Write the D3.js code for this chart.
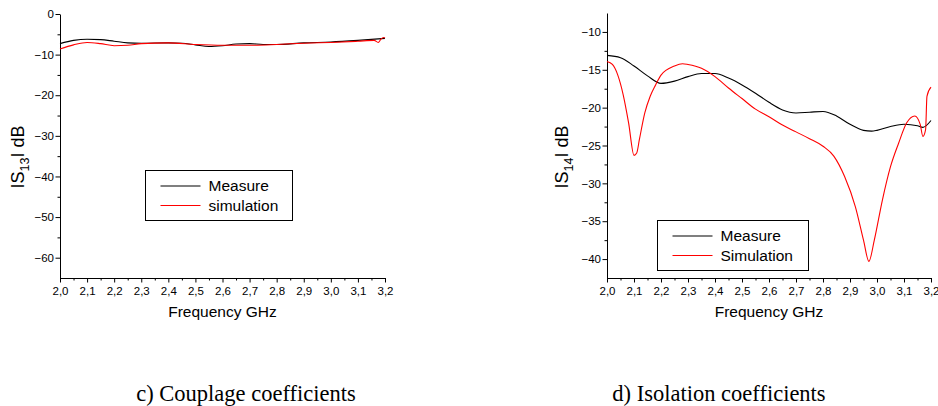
<!DOCTYPE html>
<html>
<head>
<meta charset="utf-8">
<script src="https://cdn.jsdelivr.net/npm/d3@7"></script>
<style>
	body { margin: 0; background: #fff; }
	svg { display: block; font-family: "Liberation Sans", Arial, sans-serif; }
	.caption { font-family: "Liberation Serif", "Times New Roman", serif; font-size: 22.5px; }
</style>
</head>
<body>
<div id="chart"></div>
<script>
// --- data ---
const xTicks		= [2.0, 2.1, 2.2, 2.3, 2.4, 2.5, 2.6, 2.7, 2.8, 2.9, 3.0, 3.1, 3.2];

const couplageTicks	= [0, -10, -20, -30, -40, -50, -60];
const couplageMeasure = [
	[2.00, -7.3], [2.05, -6.5], [2.10, -6.2], [2.15, -6.3], [2.20, -6.7], [2.25, -7.1],
	[2.30, -7.2], [2.40, -7.1], [2.45, -7.2], [2.50, -7.6], [2.55, -8.0], [2.60, -7.8],
	[2.65, -7.4], [2.70, -7.3], [2.75, -7.5], [2.80, -7.5], [2.90, -7.1], [3.00, -6.9],
	[3.10, -6.5], [3.20, -6.0]
];
const couplageSim = [
	[2.00, -8.6], [2.05, -7.6], [2.10, -7.0], [2.15, -7.3], [2.20, -7.8], [2.25, -7.7],
	[2.30, -7.3], [2.40, -7.1], [2.50, -7.5], [2.60, -7.7], [2.70, -7.7], [2.80, -7.5],
	[2.90, -7.2], [3.00, -7.0], [3.10, -6.7], [3.16, -6.5], [3.175, -7.0], [3.185, -6.2],
	[3.195, -5.8], [3.20, -5.9]
];

const isolationTicks = [-10, -15, -20, -25, -30, -35, -40];
const isolationMeasure = [
	[2.00, -13.1], [2.05, -13.4], [2.10, -14.5], [2.15, -15.8], [2.20, -16.8], [2.25, -16.5],
	[2.30, -15.9], [2.35, -15.5], [2.40, -15.5], [2.45, -16.1], [2.50, -17.0], [2.55, -18.1],
	[2.60, -19.3], [2.65, -20.3], [2.70, -20.7], [2.75, -20.6], [2.80, -20.5], [2.85, -21.1],
	[2.90, -22.2], [2.95, -23.0], [2.98, -23.1], [3.00, -23.0], [3.05, -22.5], [3.10, -22.2],
	[3.15, -22.4], [3.17, -22.6], [3.20, -21.7]
];
const isolationSim = [
	[2.00, -13.9], [2.02, -14.3], [2.04, -15.7], [2.06, -18.3], [2.08, -22.0], [2.10, -26.3],
	[2.11, -26.0], [2.12, -24.2], [2.14, -20.7], [2.16, -18.5], [2.18, -17.0], [2.20, -15.7],
	[2.25, -14.5], [2.28, -14.2], [2.30, -14.3], [2.35, -14.8], [2.40, -15.9], [2.45, -17.4],
	[2.50, -18.8], [2.55, -20.2], [2.60, -21.2], [2.65, -22.3], [2.70, -23.2], [2.75, -24.1],
	[2.80, -25.1], [2.84, -26.4], [2.88, -29.1], [2.92, -33.1], [2.95, -37.5], [2.97, -40.3],
	[2.99, -37.5], [3.02, -32.2], [3.05, -27.8], [3.08, -24.7], [3.11, -22.0], [3.14, -21.1],
	[3.16, -22.2], [3.17, -23.8], [3.18, -22.9], [3.185, -18.5], [3.20, -17.3]
];

const width		= 938;
const height	= 406;

let svg = d3.select('#chart').append('svg')
	.attr('width', width)
	.attr('height', height);

function drawPanel(opt) {
	let x = d3.scaleLinear().domain([2.0, 3.2]).range([opt.left, opt.right]);
	let y = d3.scaleLinear().domain(opt.yDomain).range([opt.bottom, opt.top]);
	let g = svg.append('g');
	let fmt = (d) => d3.format('.1f')(d).replace('.', ',');

	// minor ticks
	let xMinor = d3.range(2.05, 3.2, 0.1);
	g.append('g')
		.attr('transform', 'translate(0,' + opt.bottom + ')')
		.call(d3.axisBottom(x).tickValues(xMinor).tickSize(2.5).tickFormat(''))
		.call((a) => a.select('.domain').remove());
	g.append('g')
		.attr('transform', 'translate(' + opt.left + ',0)')
		.call(d3.axisLeft(y).tickValues(opt.yMinor).tickSize(2.5).tickFormat(''))
		.call((a) => a.select('.domain').remove());

	let xa = g.append('g')
		.attr('transform', 'translate(0,' + opt.bottom + ')')
		.call(d3.axisBottom(x).tickValues(xTicks).tickSize(4.5).tickSizeOuter(0).tickFormat(fmt));
	xa.selectAll('text').attr('font-size', 11.5).attr('fill', '#000').attr('font-family', 'Liberation Sans, Arial').attr('dy', '0.85em');

	let ya = g.append('g')
		.attr('transform', 'translate(' + opt.left + ',0)')
		.call(d3.axisLeft(y).tickValues(opt.yTicks).tickSize(4.5).tickSizeOuter(0).tickFormat(d3.format('d')));
	ya.selectAll('text').attr('font-size', 11.5).attr('fill', '#000').attr('font-family', 'Liberation Sans, Arial').attr('x', -6);

	g.selectAll('.domain').attr('stroke', '#000');
	g.selectAll('.tick line').attr('stroke', '#000');

	// series
	let line = d3.line().x((d) => x(d[0])).y((d) => y(d[1])).curve(d3.curveMonotoneX);
	g.append('path').datum(opt.measure)
		.attr('d', line).attr('fill', 'none').attr('stroke', '#000').attr('stroke-width', 1.1);
	g.append('path').datum(opt.sim)
		.attr('d', line).attr('fill', 'none').attr('stroke', '#ff0000').attr('stroke-width', 1.1);

	// axis titles
	g.append('text')
		.attr('x', (opt.left + opt.right) / 2).attr('y', opt.bottom + 39)
		.attr('text-anchor', 'middle').attr('font-size', 15.5)
		.text('Frequency GHz');

	let yl = g.append('text')
		.attr('transform', 'translate(' + opt.yLabelX + ',' + opt.yLabelY + ') rotate(-90)')
		.attr('text-anchor', 'middle').attr('font-size', 18);
	yl.append('tspan').text('IS');
	yl.append('tspan').attr('font-size', 12.5).attr('dy', 4.5).text(opt.sub);
	yl.append('tspan').attr('dy', -4.5).text('I dB');

	// legend
	let lg = g.append('g').attr('transform', 'translate(' + opt.legend[0] + ',' + opt.legend[1] + ')');
	lg.append('rect').attr('width', opt.legend[2]).attr('height', 50)
		.attr('fill', '#fff').attr('stroke', '#000').attr('stroke-width', 1);
	[['Measure', '#000'], [opt.simName, '#ff0000']].forEach((o, i) => {
		lg.append('line').attr('x1', 15).attr('x2', 55).attr('y1', 15.5 + i * 19.5).attr('y2', 15.5 + i * 19.5)
			.attr('stroke', o[1]).attr('stroke-width', 1.1);
		lg.append('text').attr('x', 63).attr('y', 15.5 + i * 19.5).attr('dy', '0.35em')
			.attr('font-size', 15.5).text(o[0]);
	});
}

drawPanel({
	left: 60, right: 385, top: 14, bottom: 278,
	yDomain: [-65, 0], yTicks: couplageTicks, yMinor: d3.range(-5, -65, -10),
	measure: couplageMeasure, sim: couplageSim,
	sub: '13', simName: 'simulation',
	yLabelX: 24, yLabelY: 157,
	legend: [145.5, 170.5, 147]
});

drawPanel({
	left: 607, right: 931, top: 13, bottom: 278,
	yDomain: [-42.5, -7.5], yTicks: isolationTicks, yMinor: d3.range(-12.5, -42.5, -5),
	measure: isolationMeasure, sim: isolationSim,
	sub: '14', simName: 'Simulation',
	yLabelX: 568, yLabelY: 157,
	legend: [657.5, 220.5, 151]
});

// captions
svg.append('text').attr('class', 'caption').attr('x', 246).attr('y', 401)
	.attr('text-anchor', 'middle').text('c) Couplage coefficients');
svg.append('text').attr('class', 'caption').attr('x', 719).attr('y', 401)
	.attr('text-anchor', 'middle').text('d) Isolation coefficients');
</script>
</body>
</html>
